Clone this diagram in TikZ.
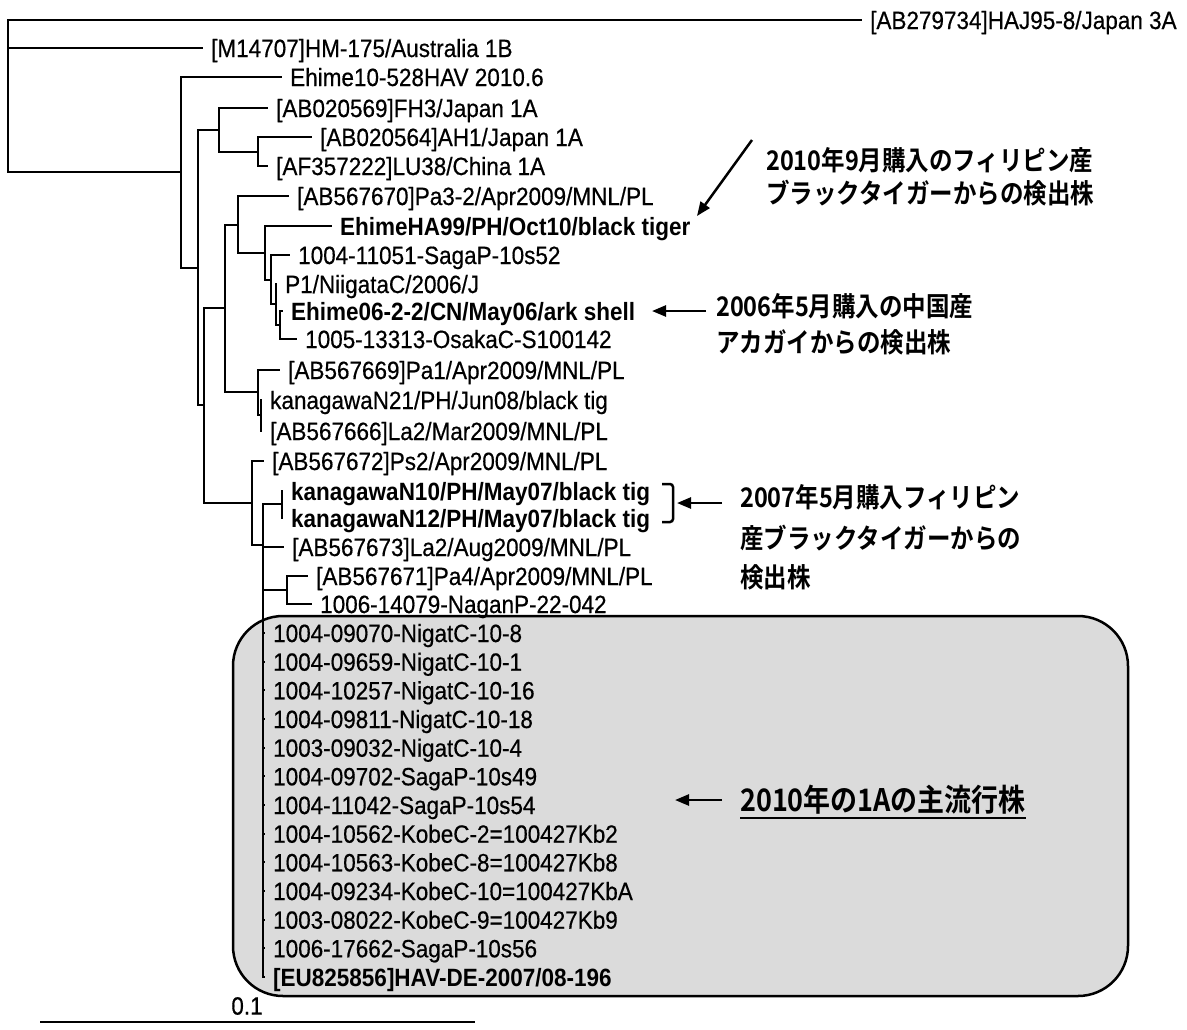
\documentclass[tikz,border=0pt]{standalone}
\usepackage{fontspec}
\setmainfont{Liberation Sans}[FakeStretch=0.9, UprightFeatures={FakeBold=0.5}]
\newfontfamily\cjk{Noto Sans CJK JP Bold}[FakeStretch=0.87]
\usetikzlibrary{arrows.meta}
\tikzset{
  br/.style={line width=2pt},
  leaf/.style={anchor=west, inner xsep=8pt, inner ysep=0pt, text height=18pt, text depth=0pt, font=\fontsize{25}{30}\selectfont},
  leafb/.style={leaf, font=\fontsize{25}{30}\selectfont\bfseries},
  ann/.style={anchor=west, inner sep=0pt, font=\cjk\fontsize{27}{32}\selectfont},
  arr/.style={line width=2.5pt, -{Triangle[length=14pt,width=11pt]}},
}
\begin{document}
\begin{tikzpicture}[x=1pt,y=-1pt]
\useasboundingbox (0,0) rectangle (1187,1029);
% shaded box
\node[draw, line width=2.5pt, fill=black!14, rounded corners=50pt, minimum width=895pt, minimum height=380pt, inner sep=0pt] (box) at (680.5,806) {};
% internal nodes
\coordinate (root) at (8,96);
\coordinate (A) at (181,172);
\coordinate (B) at (198,268);
\coordinate (C) at (219,130);
\coordinate (D) at (258,151.5);
\coordinate (E) at (204,405);
\coordinate (F) at (225,308);
\coordinate (H) at (238,224.5);
\coordinate (J) at (265,253);
\coordinate (K) at (271,280);
\coordinate (L) at (276,304);
\coordinate (M) at (280,325);
\coordinate (I) at (258,392);
\coordinate (N) at (261,415);
\coordinate (G) at (252,503);
\coordinate (R) at (263,545);
\coordinate (P) at (282,504);
\coordinate (Q) at (287,590);
% leaves
\node[leaf] (t1) at (862,20) {[AB279734]HAJ95-8/Japan 3A};
\node[leaf] (t2) at (203,48) {[M14707]HM-175/Australia 1B};
\node[leaf] (t3) at (282,77) {Ehime10-528HAV 2010.6};
\node[leaf] (t4) at (268,108) {[AB020569]FH3/Japan 1A};
\node[leaf] (t5) at (312,137) {[AB020564]AH1/Japan 1A};
\node[leaf] (t6) at (268,166) {[AF357222]LU38/China 1A};
\node[leaf] (t7) at (289,196) {[AB567670]Pa3-2/Apr2009/MNL/PL};
\node[leafb] (t8) at (332,226) {EhimeHA99/PH/Oct10/black tiger};
\node[leaf] (t9) at (290,255) {1004-11051-SagaP-10s52};
\node[leaf] (t10) at (277,284) {P1/NiigataC/2006/J};
\node[leafb] (t11) at (283,311) {Ehime06-2-2/CN/May06/ark shell};
\node[leaf] (t12) at (297,339) {1005-13313-OsakaC-S100142};
\node[leaf] (t13) at (280,370) {[AB567669]Pa1/Apr2009/MNL/PL};
\node[leaf] (t14) at (262,400) {kanagawaN21/PH/Jun08/black tig};
\node[leaf] (t15) at (262,431) {[AB567666]La2/Mar2009/MNL/PL};
\node[leaf] (t16) at (264,461) {[AB567672]Ps2/Apr2009/MNL/PL};
\node[leafb] (t17) at (283,491) {kanagawaN10/PH/May07/black tig};
\node[leafb] (t18) at (283,518) {kanagawaN12/PH/May07/black tig};
\node[leaf] (t19) at (284,547) {[AB567673]La2/Aug2009/MNL/PL};
\node[leaf] (t20) at (308,576) {[AB567671]Pa4/Apr2009/MNL/PL};
\node[leaf] (t21) at (312,604) {1006-14079-NaganP-22-042};
\node[leaf] (t22) at (265,633) {1004-09070-NigatC-10-8};
\node[leaf] (t23) at (265,661.7) {1004-09659-NigatC-10-1};
\node[leaf] (t24) at (265,690.3) {1004-10257-NigatC-10-16};
\node[leaf] (t25) at (265,719) {1004-09811-NigatC-10-18};
\node[leaf] (t26) at (265,747.7) {1003-09032-NigatC-10-4};
\node[leaf] (t27) at (265,776.3) {1004-09702-SagaP-10s49};
\node[leaf] (t28) at (265,805) {1004-11042-SagaP-10s54};
\node[leaf] (t29) at (265,833.7) {1004-10562-KobeC-2=100427Kb2};
\node[leaf] (t30) at (265,862.3) {1004-10563-KobeC-8=100427Kb8};
\node[leaf] (t31) at (265,891) {1004-09234-KobeC-10=100427KbA};
\node[leaf] (t32) at (265,919.7) {1003-08022-KobeC-9=100427Kb9};
\node[leaf] (t33) at (265,948.3) {1006-17662-SagaP-10s56};
\node[leafb] (t34) at (265,977) {[EU825856]HAV-DE-2007/08-196};
% branches
\draw[br] (root) |- (t1) (root) |- (t2) (root) |- (A);
\draw[br] (A) |- (t3) (A) |- (B);
\draw[br] (B) |- (C) (B) |- (E);
\draw[br] (C) |- (t4) (C) |- (D);
\draw[br] (D) |- (t5) (D) |- (t6);
\draw[br] (E) |- (F) (E) |- (G);
\draw[br] (F) |- (H) (F) |- (I);
\draw[br] (H) |- (t7) (H) |- (J);
\draw[br] (J) |- (t8) (J) |- (K);
\draw[br] (K) |- (t9) (K) |- (L);
\draw[br] (L) |- (t10) (L) |- (M);
\draw[br] (M) |- (t11) (M) |- (t12);
\draw[br] (I) |- (t13) (I) |- (N);
\draw[br] (N) |- (t14) (N) |- (t15);
\draw[br] (G) |- (t16) (G) |- (R);
\draw[br] (R) |- (P) (R) |- (t19) (R) |- (Q);
\draw[br] (P) |- (t17) (P) |- (t18);
\draw[br] (Q) |- (t20) (Q) |- (t21);
\foreach \k in {22,...,34} {\draw[br] (R) |- (t\k);}
% scale bar
\node[font=\fontsize{25}{30}\selectfont, inner sep=0pt] (sb) at (247,1006) {0.1};
\coordinate (sbL) at (40,1022);
\coordinate (sbR) at (475,1022);
\draw[line width=2pt] (sbL) -- (sbR);
% annotations
\node[ann] (a1a) at (766,160) {2010年9月購入のフィリピン産};
\node[ann] (a1b) at (766,193) {ブラックタイガーからの検出株};
\node[ann] (a2a) at (716,306) {2006年5月購入の中国産};
\node[ann] (a2b) at (716,342) {アカガイからの検出株};
\node[ann] (a3a) at (740,497) {2007年5月購入フィリピン};
\node[ann] (a3b) at (740,538) {産ブラックタイガーからの};
\node[ann] (a3c) at (740,577) {検出株};
\node[ann, font=\cjk\fontsize{31}{36}\selectfont] (a4) at (740,800) {2010年の1Aの主流行株};
\draw[line width=1.5pt] ([yshift=-3pt]a4.south west) -- ([yshift=-3pt]a4.south east);
% arrows
\coordinate (a1s) at (752,140); \coordinate (a1t) at (697,216);
\draw[arr] (a1s) -- (a1t);
\coordinate (a2s) at (706,311); \coordinate (a2t) at (652,311);
\draw[arr] (a2s) -- (a2t);
\coordinate (a3s) at (722,503); \coordinate (a3t) at (677,503);
\draw[arr] (a3s) -- (a3t);
\coordinate (a4s) at (722,800); \coordinate (a4t) at (675,800);
\draw[arr] (a4s) -- (a4t);
% bracket
\coordinate (bk1) at (662,484); \coordinate (bk2) at (673,484);
\coordinate (bk3) at (673,522); \coordinate (bk4) at (662,522);
\draw[line width=2.5pt, rounded corners=3pt] (bk1) -- (bk2) -- (bk3) -- (bk4);
\end{tikzpicture}
\end{document}
